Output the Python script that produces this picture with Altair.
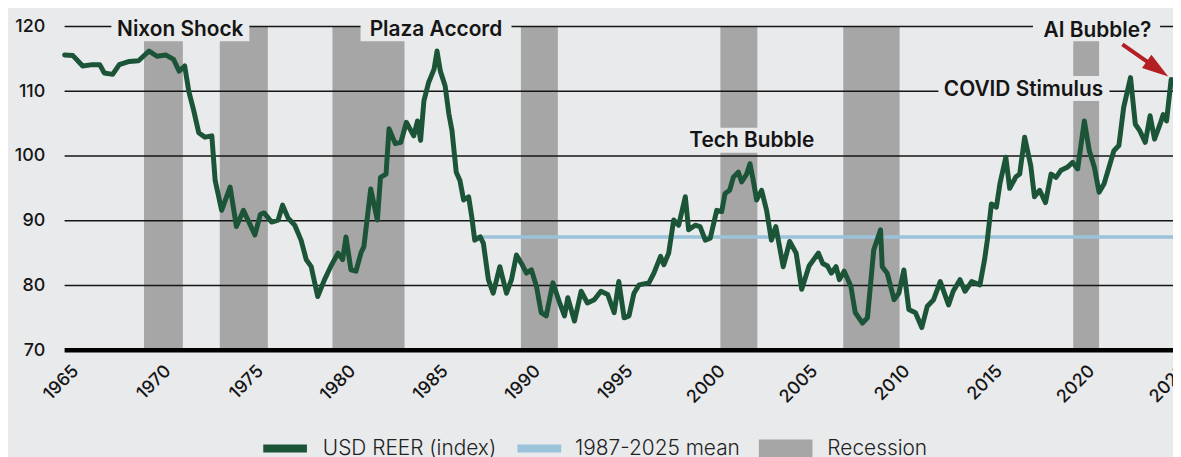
import altair as alt
import pandas as pd

# ---------------- data ----------------
YEARS = [1965.0, 1965.45, 1965.98, 1966.5, 1966.9, 1967.15, 1967.6, 1967.96, 1968.5, 1969.0,
         1969.57, 1970.0, 1970.47, 1970.9, 1971.2, 1971.5, 1971.72, 1971.99, 1972.26, 1972.6,
         1972.97, 1973.15, 1973.5, 1973.96, 1974.3, 1974.68, 1975.3, 1975.6, 1975.8, 1976.2,
         1976.56, 1976.8, 1977.1, 1977.46, 1977.8, 1978.08, 1978.35, 1978.7, 1979.07, 1979.4,
         1979.8, 1980.05, 1980.23, 1980.5, 1980.77, 1981.04, 1981.2, 1981.57, 1981.93, 1982.1,
         1982.4, 1982.56, 1982.9, 1983.2, 1983.5, 1983.9, 1984.1, 1984.27, 1984.45, 1984.7,
         1985.0, 1985.16, 1985.34, 1985.6, 1985.8, 1985.97, 1986.2, 1986.4, 1986.6, 1986.87,
         1987.04, 1987.2, 1987.5, 1987.67, 1987.94, 1988.2, 1988.56, 1988.92, 1989.19, 1989.46,
         1989.73, 1990.0, 1990.27, 1990.54, 1990.8, 1991.07, 1991.43, 1991.8, 1992.06, 1992.24,
         1992.6, 1992.96, 1993.3, 1993.67, 1994.03, 1994.4, 1994.75, 1995.0, 1995.29, 1995.55,
         1995.82, 1996.1, 1996.63, 1996.9, 1997.26, 1997.44, 1997.7, 1997.97, 1998.24, 1998.6,
         1998.78, 1999.14, 1999.4, 1999.68, 1999.95, 2000.3, 2000.57, 2000.75, 2001.0, 2001.2,
         2001.47, 2001.65, 2001.92, 2002.1, 2002.28, 2002.46, 2002.73, 2003.0, 2003.26, 2003.5,
         2003.9, 2004.25, 2004.6, 2004.9, 2005.3, 2005.8, 2006.04, 2006.3, 2006.5, 2006.76,
         2006.94, 2007.2, 2007.56, 2007.8, 2008.19, 2008.46, 2008.8, 2009.17, 2009.26, 2009.53,
         2009.9, 2010.16, 2010.43, 2010.7, 2011.06, 2011.4, 2011.7, 2012.04, 2012.4, 2012.85,
         2013.1, 2013.47, 2013.74, 2014.1, 2014.55, 2014.8, 2014.95, 2015.17, 2015.44, 2015.63,
         2015.95, 2016.16, 2016.5, 2016.7, 2016.97, 2017.3, 2017.5, 2017.78, 2018.1, 2018.4,
         2018.67, 2018.94, 2019.3, 2019.57, 2019.84, 2020.0, 2020.2, 2020.47, 2020.74, 2021.0,
         2021.27, 2021.54, 2021.8, 2022.07, 2022.33, 2022.7, 2022.96, 2023.2, 2023.5, 2023.76,
         2024.0, 2024.3, 2024.47, 2024.65, 2024.9]
REER = [115.6, 115.5, 113.9, 114.1, 114.1, 112.8, 112.6, 114.1, 114.6, 114.7,
        116.2, 115.4, 115.6, 114.9, 113.1, 113.9, 110.0, 107.0, 103.6, 102.9,
        103.1, 96.2, 91.6, 95.2, 89.1, 91.6, 87.8, 91.0, 91.2, 89.8,
        90.1, 92.4, 90.4, 89.3, 87.0, 84.0, 82.9, 78.3, 80.9, 82.9,
        85.0, 84.0, 87.5, 82.4, 82.2, 85.0, 86.0, 94.9, 90.1, 96.7,
        97.2, 104.2, 101.9, 102.1, 105.2, 103.1, 105.4, 102.4, 108.5, 111.3,
        113.4, 116.2, 113.1, 110.8, 106.5, 103.9, 97.5, 96.2, 93.2, 93.7,
        90.6, 87.0, 87.5, 86.5, 80.9, 78.8, 82.9, 78.8, 80.9, 84.7,
        83.4, 81.9, 82.4, 79.9, 75.8, 75.3, 80.4, 77.3, 75.3, 78.1,
        74.5, 79.1, 77.3, 77.8, 79.1, 78.6, 75.8, 80.6, 75.0, 75.3,
        78.8, 80.1, 80.4, 81.9, 84.5, 83.2, 85.0, 90.1, 89.3, 93.7,
        88.6, 89.3, 89.1, 87.0, 87.3, 91.6, 91.4, 94.2, 94.7, 96.7,
        97.5, 96.0, 97.2, 98.8, 96.2, 93.2, 94.7, 91.6, 87.0, 89.1,
        82.9, 86.8, 85.0, 79.4, 83.0, 85.0, 83.4, 83.0, 81.9, 82.9,
        80.9, 82.2, 79.9, 75.8, 74.2, 75.0, 85.5, 88.6, 82.9, 81.9,
        77.8, 78.8, 82.4, 76.3, 75.8, 73.5, 76.8, 77.8, 80.6, 77.0,
        79.1, 80.9, 79.1, 80.6, 80.1, 84.0, 87.0, 92.6, 92.1, 95.7,
        99.8, 95.0, 96.8, 97.2, 102.9, 98.5, 93.7, 94.7, 92.8, 97.2,
        96.7, 97.8, 98.3, 99.0, 98.0, 101.3, 105.4, 100.8, 98.3, 94.4,
        95.7, 98.3, 100.8, 101.6, 107.5, 112.1, 104.9, 103.9, 102.1, 106.2,
        102.6, 104.9, 106.4, 105.4, 111.8]

REC_START = [1969.3, 1973.4, 1979.5, 1989.7, 2000.5, 2007.15, 2019.6]
REC_END = [1971.4, 1976.0, 1983.4, 1991.7, 2002.5, 2010.2, 2021.0]

MEAN_VALUE = 87.5
MEAN_START = 1987.1
MEAN_END = 2025.0

Y_MIN, Y_MAX = 70, 120
X_MIN, X_MAX = 1965, 2025
GRID_VALUES = [80, 90, 100, 110, 120]
X_TICKS = [1965, 1970, 1975, 1980, 1985, 1990, 1995, 2000, 2005, 2010, 2015, 2020, 2025]
Y_TICKS = [70, 80, 90, 100, 110, 120]

ANNOT_TEXT = ["Nixon Shock", "Plaza Accord", "Tech Bubble", "COVID Stimulus", "AI Bubble?"]
ANNOT_X = [1971.26, 1985.1, 2002.2, 2016.91, 2020.91]
ANNOT_Y = [119.4, 119.4, 102.25, 110.15, 119.3]
BOX_X0 = [1967.53, 1981.02, 1998.39, 2012.3, 2017.42]
BOX_X1 = [1975.0, 1989.19, 2005.7, 2021.56, 2024.3]
BOX_Y0 = [117.7, 117.7, 100.5, 108.5, 117.7]
BOX_Y1 = [120.6, 120.6, 104.36, 112.33, 120.6]

ARROW_X0, ARROW_Y0 = 2022.26, 117.24
ARROW_X1, ARROW_Y1 = 2024.16, 113.44

SERIES_NAMES = ["USD REER (index)", "1987-2025 mean", "Recession"]

# ---------------- styling ----------------
BG = "#e9eaec"
GREEN = "#1c5438"
BLUE = "#9ac2d8"
GRAY = "#a6a6a6"
RED = "#b31f22"
INK = "#151515"
FONT = "Inter"
SERIES_COLORS = [GREEN, BLUE, GRAY]

xs = alt.Scale(domain=[X_MIN, X_MAX], nice=False, zero=False)
ys = alt.Scale(domain=[Y_MIN, Y_MAX], nice=False, zero=False)

x_axis = alt.Axis(values=X_TICKS, format="d", labelAngle=-45, labelAlign="right",
                  labelBaseline="middle", labelPadding=18, labelOffset=11,
                  ticks=False, domain=False, grid=False, labelFont=FONT,
                  labelFontSize=18, labelFontWeight=500, labelColor=INK, title=None)
y_axis = alt.Axis(values=Y_TICKS, ticks=False, domain=False, grid=False, labelFont=FONT,
                  labelFontSize=18, labelFontWeight=500, labelColor=INK, labelPadding=20,
                  title=None)

LINE_SYMBOL = "M-1,0H1"
RECT_SYMBOL = "M-1,-0.333H1V0.333H-1Z"
ARROW_HEAD = "M0,-1L0.62,1L-0.62,1Z"


def make_legend(x, y, shape, size, stroke_width, offset):
    return alt.Legend(title=None, orient="none", legendX=x, legendY=y,
                      labelFont=FONT, labelFontSize=21, labelFontWeight=300,
                      labelColor="#222222", labelLimit=0, symbolType=shape, symbolSize=size,
                      symbolStrokeWidth=stroke_width, labelOffset=offset, symbolOpacity=1)


def X(field):
    return alt.X(field, type="quantitative", scale=xs, axis=x_axis)


def Y(field):
    return alt.Y(field, type="quantitative", scale=ys, axis=y_axis)


def C(i, legend):
    return alt.Color("series:N",
                     scale=alt.Scale(domain=[SERIES_NAMES[i]], range=[SERIES_COLORS[i]]),
                     legend=legend)


line_df = pd.DataFrame({"year": YEARS, "value": REER, "series": SERIES_NAMES[0]})
rec_df = pd.DataFrame({"start": REC_START, "end": REC_END,
                       "lo": [Y_MIN] * len(REC_START), "hi": [Y_MAX] * len(REC_START),
                       "series": SERIES_NAMES[2]})
grid_df = pd.DataFrame({"v": GRID_VALUES})
base_df = pd.DataFrame({"v": [Y_MIN]})
mean_df = pd.DataFrame({"x0": [MEAN_START], "x1": [MEAN_END], "v": [MEAN_VALUE],
                        "series": [SERIES_NAMES[1]]})
box_df = pd.DataFrame({"x0": BOX_X0, "x1": BOX_X1, "y0": BOX_Y0, "y1": BOX_Y1})
text_df = pd.DataFrame({"x": ANNOT_X, "y": ANNOT_Y, "t": ANNOT_TEXT})
arrow_df = pd.DataFrame({"x0": [ARROW_X0], "y0": [ARROW_Y0], "x1": [ARROW_X1], "y1": [ARROW_Y1]})

recession = alt.Chart(rec_df).mark_rect(opacity=1).encode(
    x=X("start"), x2="end", y=Y("lo"), y2="hi",
    color=C(2, make_legend(699, 398, RECT_SYMBOL, 2916, 0, 15)))

grid = alt.Chart(grid_df).mark_rule(color=INK, strokeWidth=1.4).encode(y=Y("v"))
base = alt.Chart(base_df).mark_rule(color="#000000", strokeWidth=4.5).encode(y=Y("v"))

boxes = alt.Chart(box_df).mark_rect(color=BG, opacity=1).encode(
    x=X("x0"), x2="x1", y=Y("y0"), y2="y1")

mean = alt.Chart(mean_df).mark_rule(strokeWidth=3.5).encode(
    x=X("x0"), x2="x1", y=Y("v"),
    color=C(1, make_legend(452, 399, LINE_SYMBOL, 1936, 8, 10)))

line = alt.Chart(line_df).mark_line(strokeWidth=5, strokeJoin="round", strokeCap="round").encode(
    x=X("year"), y=Y("value"),
    color=C(0, make_legend(196, 399, LINE_SYMBOL, 1936, 8, 12)))

arrow_shaft = alt.Chart(arrow_df).mark_rule(color=RED, strokeWidth=4).encode(
    x=X("x0"), x2="x1", y=Y("y0"), y2="y1")
arrow_head = alt.Chart(arrow_df).mark_point(shape=ARROW_HEAD, filled=True, color=RED,
                                            size=700, angle=125, opacity=1, strokeWidth=0).encode(
    x=X("x1"), y=Y("y1"))

texts = alt.Chart(text_df).mark_text(font=FONT, fontSize=21, fontWeight=600, color=INK,
                                     align="center", baseline="middle").encode(
    x=X("x"), y=Y("y"), text="t:N")

chart = alt.layer(recession, grid, base, boxes, mean, line, arrow_shaft, arrow_head, texts).resolve_scale(
    color="independent"
).properties(
    width=1116, height=326,
    padding={"left": 57, "top": 17, "right": 0, "bottom": 114},
    autosize=alt.AutoSizeParams(type="none"),
    background=BG,
).configure_view(stroke=None)

chart.save("out.html", embed_options={"renderer": "svg", "actions": False})
